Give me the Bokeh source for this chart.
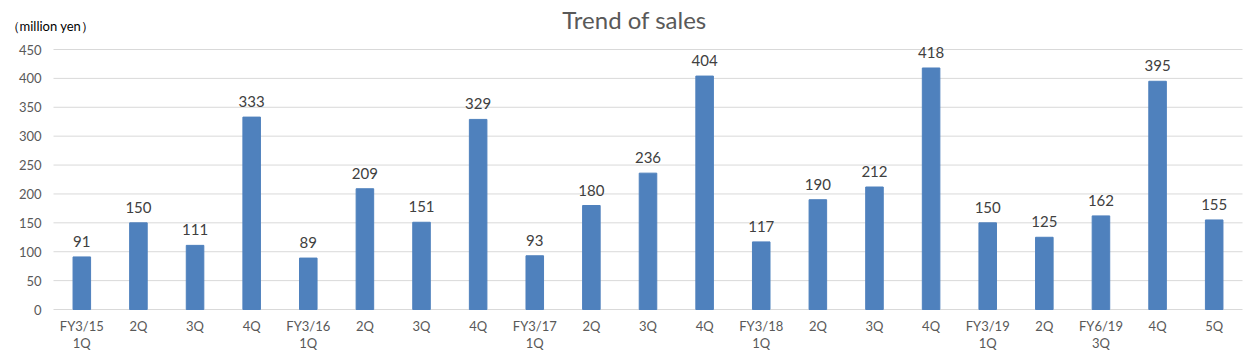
from bokeh.plotting import figure
from bokeh.models import ColumnDataSource, Range1d, LabelSet, Label, FixedTicker
from bokeh.core.properties import value
from bokeh.embed import file_html
from bokeh.resources import INLINE

periods = ["FY3/15\n1Q", "2Q", "3Q", "4Q", "FY3/16\n1Q", "2Q", "3Q", "4Q",
           "FY3/17\n1Q", "2Q", "3Q", "4Q", "FY3/18\n1Q", "2Q", "3Q", "4Q",
           "FY3/19\n1Q", "2Q", "FY6/19\n3Q", "4Q", "5Q"]
sales = [91, 150, 111, 333, 89, 209, 151, 329, 93, 180, 236, 404,
         117, 190, 212, 418, 150, 125, 162, 395, 155]
y_ticks = [0, 50, 100, 150, 200, 250, 300, 350, 400, 450]
title_text = "Trend of sales"
unit_text = "（million yen）"

# layout (pixels) of the drawing area inside the canvas
W, H = 1257, 357
PL, PR, PT, PB = 53, 1242, 49, 309
n = len(periods)
ymax = y_ticks[-1]
xu = (PR - PL) / n            # px per category
yu = (PB - PT) / ymax         # px per unit
x_lo, x_hi = -0.5 - PL / xu, n - 0.5 + (W - PR) / xu
y_lo, y_hi = -(H - PB) / yu, ymax + PT / yu

xs = list(range(n))
src = ColumnDataSource(dict(x=xs, y=sales, lab=[str(v) for v in sales]))
gsrc = ColumnDataSource(dict(y=y_ticks))

FONT = "Lato"
GRAY = "#595959"

p = figure(width=W, height=H, x_range=Range1d(x_lo, x_hi), y_range=Range1d(y_lo, y_hi),
           output_backend="svg", toolbar_location=None, min_border=0)
p.outline_line_color = None
p.xgrid.grid_line_color = None
p.ygrid.grid_line_color = None

# horizontal gridlines across the plot area
p.segment(x0=-0.5, x1=n - 0.5, y0="y", y1="y", source=gsrc, line_color="#D9D9D9", line_width=1)
p.vbar(x="x", top="y", width=0.31, source=src, color="#4F81BD")

p.add_layout(LabelSet(x="x", y="y", text="lab", source=src, text_align="center",
                      text_baseline="alphabetic", y_offset=10, text_font_size="15px",
                      text_font=value(FONT), text_color="#404040"))

p.yaxis.fixed_location = -0.5
p.yaxis.ticker = FixedTicker(ticks=y_ticks)
p.yaxis.axis_line_color = None
p.yaxis.major_tick_line_color = None
p.yaxis.minor_tick_line_color = None
p.yaxis.major_tick_out = 0
p.yaxis.major_tick_in = 0
p.yaxis.major_label_standoff = 12
p.yaxis.major_label_text_font_size = "13px"
p.yaxis.major_label_text_font = FONT
p.yaxis.major_label_text_color = GRAY

p.xaxis.fixed_location = 0
p.xaxis.ticker = FixedTicker(ticks=xs)
p.xaxis.axis_line_color = None
p.xaxis.major_tick_line_color = None
p.xaxis.minor_tick_line_color = None
p.xaxis.major_tick_out = 0
p.xaxis.major_tick_in = 0
p.xaxis.major_label_standoff = 8
p.xaxis.major_label_text_font_size = "13px"
p.xaxis.major_label_text_line_height = 1.1
p.xaxis.major_label_text_font = FONT
p.xaxis.major_label_text_color = GRAY
p.xaxis.major_label_overrides = {i: t for i, t in zip(xs, periods)}

p.add_layout(Label(x=-0.5 + (634 - PL) / xu, y=ymax + (PT - 19) / yu, text=title_text,
                   text_align="center", text_baseline="alphabetic",
                   text_font_size="24px", text_font=FONT, text_color=GRAY))
p.add_layout(Label(x=-0.5 + (6 - PL) / xu, y=ymax + (PT - 25) / yu, text=unit_text,
                   text_align="left", text_baseline="alphabetic",
                   text_font_size="13px", text_font=FONT, text_color="#000000"))

open("out.html", "w").write(file_html(p, INLINE))
